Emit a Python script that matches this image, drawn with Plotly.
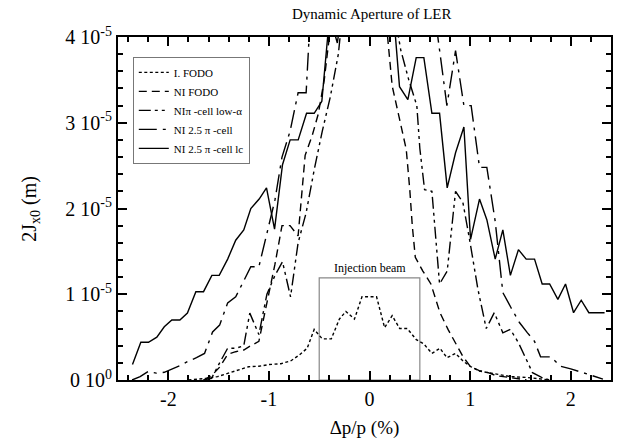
import plotly.graph_objects as go

# ---- data (x in %, y in units of 1e-5 m) ----
I_FODO_x = [-1.80, -1.61, -1.51, -1.41, -1.31, -1.20, -1.10, -1.00, -0.88, -0.78, -0.70, -0.62, -0.55,
            -0.47, -0.38, -0.30, -0.235, -0.15, -0.075, 0.07, 0.15, 0.225, 0.30, 0.375, 0.465, 0.54,
            0.62, 0.70, 0.77, 0.855, 0.93, 1.00, 1.09, 1.18, 1.26, 1.40, 1.56, 1.72, 1.80]
I_FODO_y = [0.0, 0.02, 0.04, 0.08, 0.12, 0.155, 0.16, 0.18, 0.19, 0.225, 0.29, 0.37, 0.59,
            0.48, 0.48, 0.71, 0.80, 0.71, 0.97, 0.97, 0.61, 0.75, 0.60, 0.60, 0.47, 0.42,
            0.31, 0.37, 0.26, 0.31, 0.22, 0.16, 0.105, 0.085, 0.066, 0.04, 0.03, 0.01, 0.0]

NI_FODO_x = [-1.65, -1.57, -1.49, -1.41, -1.33, -1.25, -1.18, -1.10, -1.02, -0.94, -0.87, -0.79,
             -0.71, -0.64, -0.57, -0.51, -0.45, -0.39, -0.31, 0.10, 0.225, 0.30, 0.365, 0.40, 0.425,
             0.455, 0.53, 0.61, 0.70, 0.78, 0.855, 0.93, 1.00, 1.09, 1.18, 1.26, 1.39, 1.56]
NI_FODO_y = [0.0, 0.05, 0.15, 0.30, 0.33, 0.35, 0.40, 0.45, 0.90, 1.35, 1.80, 1.80,
             1.68, 2.62, 2.85, 3.10, 3.50, 4.10, 5.0, 5.0, 3.43, 3.05, 2.69, 2.22, 1.80,
             1.43, 1.27, 1.12, 0.785, 0.59, 0.435, 0.27, 0.16, 0.11, 0.085, 0.05, 0.03, 0.0]

LOWA_x = [-1.65, -1.57, -1.49, -1.41, -1.33, -1.25, -1.19, -1.10, -1.02, -0.94, -0.865, -0.785,
          -0.71, -0.63, -0.55, -0.47, -0.39, -0.31, -0.24, 0.20, 0.31, 0.39, 0.47, 0.50, 0.547,
          0.62, 0.696, 0.772, 0.855, 0.928, 0.994, 1.077, 1.16, 1.24, 1.325, 1.40, 1.48, 1.557,
          1.62, 1.71, 1.79]
LOWA_y = [0.0, 0.02, 0.2, 0.37, 0.37, 0.40, 0.78, 0.53, 1.0, 1.22, 1.38, 0.97,
          1.6, 1.95, 2.45, 2.9, 3.3, 3.8, 4.6, 4.6, 3.85, 3.5, 3.2, 2.7, 2.22,
          2.2, 1.12, 1.27, 2.2, 2.07, 1.64, 1.06, 0.60, 0.785, 0.55, 0.59, 0.435, 0.24,
          0.085, 0.03, 0.0]

C25_x = [-2.36, -2.28, -2.20, -2.12, -2.04, -1.96, -1.88, -1.80, -1.72, -1.64, -1.56, -1.49,
         -1.41, -1.33, -1.25, -1.18, -1.10, -1.02, -0.94, -0.87, -0.79, -0.71, -0.63, -0.55,
         0.60, 0.769, 0.855, 0.938, 1.01, 1.093, 1.166, 1.249, 1.325, 1.408, 1.49, 1.57, 1.64,
         1.70, 1.80, 1.90, 2.00, 2.19, 2.32]
C25_y = [0.0, 0.04, 0.10, 0.08, 0.09, 0.13, 0.17, 0.22, 0.26, 0.31, 0.56, 0.64,
         0.90, 0.97, 1.15, 1.32, 1.32, 1.72, 2.10, 2.60, 2.90, 3.35, 3.35, 5.1,
         4.7, 3.20, 3.84, 3.20, 3.20, 2.48, 2.48, 1.85, 1.02, 0.84, 0.67, 0.55, 0.45,
         0.27, 0.27, 0.16, 0.13, 0.06, 0.01]

LC_x = [-2.356, -2.273, -2.197, -2.114, -2.04, -1.965, -1.885, -1.81, -1.726, -1.65, -1.567,
        -1.494, -1.41, -1.33, -1.25, -1.18, -1.097, -1.024, -0.944, -0.865, -0.789, -0.709,
        -0.626, -0.55, -0.474, -0.397, -0.32, -0.24, 0.22, 0.298, 0.381, 0.464, 0.540, 0.62,
        0.696, 0.772, 0.855, 0.938, 1.004, 1.093, 1.166, 1.249, 1.325, 1.40, 1.48, 1.557, 1.64,
        1.716, 1.79, 1.872, 1.948, 2.028, 2.104, 2.18, 2.336]
LC_y = [0.18, 0.44, 0.44, 0.50, 0.62, 0.70, 0.70, 0.78, 1.03, 1.03, 1.22,
        1.22, 1.41, 1.63, 1.75, 2.0, 2.11, 2.24, 1.76, 2.51, 2.80, 2.80,
        3.11, 3.11, 3.25, 4.25, 3.93, 4.6, 4.55, 3.42, 3.27, 3.76, 3.76, 3.11,
        3.11, 2.24, 2.65, 2.95, 1.64, 2.11, 1.87, 1.41, 1.75, 1.22, 1.52, 1.41, 1.41,
        1.12, 1.12, 0.94, 1.12, 0.785, 0.93, 0.785, 0.785]

SERIES_NAMES = ["I. FODO", "NI FODO", "NI\u03c0 -cell low-\u03b1", "NI 2.5 \u03c0 -cell", "NI 2.5 \u03c0 -cell lc"]
INJ_X = [-0.5, 0.5]
INJ_TOP = 1.19
Y_TICK_VALS = [0, 1, 2, 3, 4]
Y_TICK_TEXT = ["0 10<sup>0</sup>", "1 10<sup>-5</sup>", "2 10<sup>-5</sup>", "3 10<sup>-5</sup>", "4 10<sup>-5</sup>"]
X_TICK_VALS = [-2, -1, 0, 1, 2]
SCALE = 1e-5

FONT = "Liberation Serif, Times New Roman, serif"

styles = ["3px,2.5px", "8px,5px", "12px,4px,3px,4px,3px,4px", "18px,6px,3px,6px", "solid"]
series = [(I_FODO_x, I_FODO_y), (NI_FODO_x, NI_FODO_y), (LOWA_x, LOWA_y), (C25_x, C25_y), (LC_x, LC_y)]

fig = go.Figure()
for (xs, ys), name, dash in zip(series, SERIES_NAMES, styles):
    fig.add_trace(go.Scatter(x=xs, y=[v * SCALE for v in ys], mode="lines", name=name,
                             line=dict(color="black", width=1.4, dash=dash)))

fig.add_shape(type="rect", x0=INJ_X[0], x1=INJ_X[1], y0=0, y1=INJ_TOP * SCALE,
              line=dict(color="#888888", width=1.2), layer="below")
fig.add_annotation(x=(INJ_X[0] + INJ_X[1]) / 2, y=INJ_TOP * SCALE, text="Injection beam",
                   showarrow=False, yanchor="bottom", yshift=1,
                   font=dict(family=FONT, size=12, color="black"))

# y-axis title placed as a rotated annotation
fig.add_annotation(xref="paper", yref="paper", x=-0.178, y=0.5, text="2J<sub>x0</sub> (m)",
                   textangle=-90, showarrow=False, xanchor="center", yanchor="middle",
                   font=dict(family=FONT, size=20, color="black"))

axis_common = dict(showline=True, linecolor="black", linewidth=2, mirror="ticks",
                   ticks="inside", ticklen=9, tickwidth=2, tickcolor="black",
                   showgrid=False, zeroline=False, automargin=False,
                   tickfont=dict(family=FONT, size=20, color="black"))

fig.update_xaxes(range=[-2.5, 2.4], tickvals=X_TICK_VALS, ticktext=[str(v) for v in X_TICK_VALS],
                 minor=dict(dtick=0.2, tick0=0, ticks="inside", ticklen=5, tickwidth=1.5, tickcolor="black"),
                 title=dict(text="\u0394p/p (%)", font=dict(family=FONT, size=19, color="black"), standoff=12),
                 **axis_common)
fig.update_yaxes(range=[0, 4 * SCALE], tickvals=[v * SCALE for v in Y_TICK_VALS], ticktext=Y_TICK_TEXT,
                 minor=dict(dtick=0.2 * SCALE, tick0=0, ticks="inside", ticklen=5, tickwidth=1.5, tickcolor="black"),
                 **axis_common)

fig.update_layout(
    width=628, height=442,
    margin=dict(l=118, r=17, t=37, b=62),
    paper_bgcolor="white", plot_bgcolor="white",
    title=dict(text="Dynamic Aperture of LER", x=0.592, xanchor="center", y=0.968, yanchor="middle",
               font=dict(family=FONT, size=15, color="black")),
    legend=dict(x=0.03, y=0.942, xanchor="left", yanchor="top", bgcolor="white",
                bordercolor="#777777", borderwidth=1, tracegroupgap=0,
                font=dict(family=FONT, size=11, color="black")),
    font=dict(family=FONT, color="black"),
)

fig.write_html("out.html")
